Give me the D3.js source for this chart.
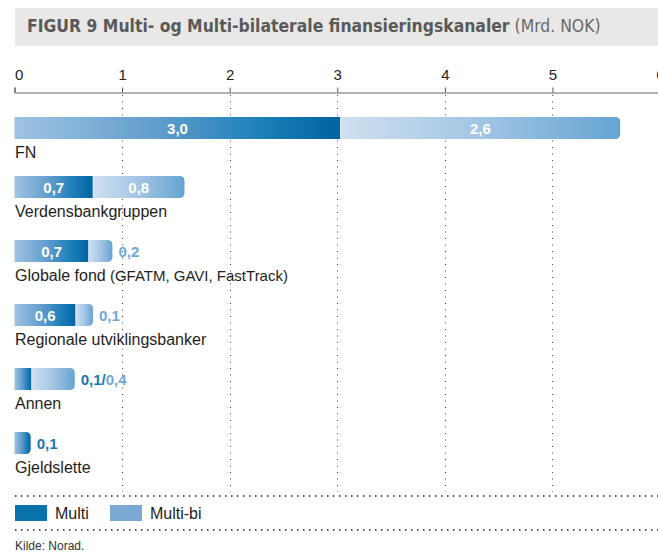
<!DOCTYPE html>
<html><head><meta charset="utf-8">
<script src="https://cdn.jsdelivr.net/npm/d3@7"></script>
<style>body{margin:0;background:#fff}svg{display:block}</style>
</head><body><svg id="c" width="658" height="552"></svg>
<script>
const categories = ["FN","Verdensbankgruppen","Globale fond","Regionale utviklingsbanker","Annen","Gjeldslette"];
const categoryNotes = ["","","(GFATM, GAVI, FastTrack)","","",""];
const multiValues = [3.03, 0.73, 0.69, 0.57, 0.16, 0.15];
const multiBiValues = [2.60, 0.85, 0.22, 0.16, 0.40, 0];
const multiLabels = ["3,0","0,7","0,7","0,6","0,1","0,1"];
const multiBiLabels = ["2,6","0,8","0,2","0,1","0,4",""];
const tickValues = [0,1,2,3,4,5,6];
const seriesNames = ["Multi","Multi-bi"];
const titleBold = "FIGUR 9 Multi- og Multi-bilaterale finansieringskanaler";
const titleRest = " (Mrd. NOK)";
const source = "Kilde: Norad.";

const svg = d3.select("#c");
const font = "'Liberation Sans', Arial, sans-serif";
const W = 658;
const x = d3.scaleLinear().domain([0,6]).range([14.5, 660]);
const y = d3.scaleBand().domain(categories).range([112, 112 + 64*categories.length]).paddingInner(0).paddingOuter(0);
const barH = 22;
const yTop = (c,i) => y(c) + (i===0 ? 5 : 0);

const defs = svg.append("defs");
function grad(id, stops){
  const g = defs.append("linearGradient").attr("id", id).attr("x1","0").attr("x2","1").attr("y1","0").attr("y2","0");
  stops.forEach(s => g.append("stop").attr("offset", s[0]).attr("stop-color", s[1]));
}
grad("gMulti", [[0,"#a0c3e2"],[0.45,"#5f9ccc"],[0.75,"#1e7fba"],[1,"#0063a0"]]);
grad("gBi", [[0,"#d0e0f1"],[0.5,"#a3c5e4"],[1,"#65a4d2"]]);

// title
svg.append("rect").attr("x",15).attr("y",8).attr("width",W-15).attr("height",38).attr("fill","#e8e8e6");
const tt = svg.append("text").attr("x",27).attr("y",32)
  .attr("font-family","'Liberation Sans Narrow','DejaVu Sans Condensed',sans-serif").attr("font-size",17.4).attr("fill","#5a5a5a");
tt.append("tspan").attr("font-weight","bold").text(titleBold);
tt.append("tspan").attr("fill","#6a6a6a").text(titleRest);

// gridlines
svg.append("g").selectAll("line").data(tickValues.filter(v => v>0 && v<6)).join("line")
  .attr("x1", d=>Math.round(x(d))+0.5).attr("x2", d=>Math.round(x(d))+0.5)
  .attr("y1", 95).attr("y2", 492)
  .attr("stroke","#444").attr("stroke-width",1).attr("stroke-dasharray","1,5.5");

// axis
const axis = svg.append("g").attr("transform","translate(0,92.5)")
  .call(d3.axisTop(x).tickValues(tickValues).tickSize(5).tickSizeOuter(5).tickPadding(8).tickFormat(d3.format("d")));
axis.select(".domain").attr("stroke","#666");
axis.selectAll(".tick line").attr("stroke","#555");
axis.selectAll(".tick text").attr("font-family",font).attr("font-size",15).attr("fill","#222")
  .attr("text-anchor", d => d===0 ? "start" : "middle");

function segPath(x0, x1, yy, h, rounded){
  const r = Math.min(5, (x1-x0));
  if(!rounded) return `M${x0},${yy}H${x1}V${yy+h}H${x0}Z`;
  return `M${x0},${yy}H${x1-r}Q${x1},${yy} ${x1},${yy+r}V${yy+h-r}Q${x1},${yy+h} ${x1-r},${yy+h}H${x0}Z`;
}

const rows = svg.append("g").selectAll("g").data(categories).join("g");
rows.each(function(c, i){
  const g = d3.select(this);
  const t = yTop(c,i);
  const m = multiValues[i], b = multiBiValues[i];
  const x0 = x(0), x1 = x(m), x2 = x(m+b);
  g.append("path").attr("d", segPath(x0, x1, t, barH, b===0)).attr("fill","url(#gMulti)");
  if(b>0){
    g.append("path").attr("d", segPath(x1, x2, t, barH, true)).attr("fill","url(#gBi)");
    g.append("line").attr("x1",x1).attr("x2",x1).attr("y1",t).attr("y2",t+barH).attr("stroke","#e8f0f8").attr("stroke-width",0.8);
  }
  const outside = [];
  const lblY = t + barH/2 + 5.5;
  const minW = 50;
  if(x1-x0 > minW){
    g.append("text").attr("x",(x0+x1)/2).attr("y",lblY).attr("text-anchor","middle")
      .attr("font-family",font).attr("font-weight","bold").attr("font-size",15).attr("fill","#fff").text(multiLabels[i]);
  } else outside.push([multiLabels[i], "#1a78b5"]);
  if(b>0){
    if(x2-x1 > minW){
      g.append("text").attr("x",(x1+x2)/2).attr("y",lblY).attr("text-anchor","middle")
        .attr("font-family",font).attr("font-weight","bold").attr("font-size",15).attr("fill","#fff").text(multiBiLabels[i]);
    } else outside.push([multiBiLabels[i], "#6ea8d8"]);
  }
  if(outside.length){
    const ot = g.append("text").attr("x", (b>0?x2:x1)+6).attr("y", lblY)
      .attr("font-family",font).attr("font-weight","bold").attr("font-size",15);
    outside.forEach((o,k) => {
      ot.append("tspan").attr("fill",o[1]).text(o[0] + (k<outside.length-1 ? "/" : ""));
    });
  }
  const lt = g.append("text").attr("x",15).attr("y",t+barH+19)
    .attr("font-family",font).attr("font-size",16).attr("fill","#1e1e1e").text(c);
  if(categoryNotes[i]) lt.append("tspan").attr("font-size",15).text(" " + categoryNotes[i]);
});

// dotted separators
[496, 530].forEach(yy => svg.append("line").attr("x1",15).attr("x2",W).attr("y1",yy).attr("y2",yy)
  .attr("stroke","#555").attr("stroke-width",2).attr("stroke-dasharray","1.5,4.5"));

// legend
const legColors = ["#0a72ab","#7aaad3"];
const leg = svg.append("g").selectAll("g").data(seriesNames).join("g")
  .attr("transform", (d,i) => `translate(${i===0?15:110},505)`);
leg.append("rect").attr("width",32).attr("height",16).attr("fill",(d,i)=>legColors[i]);
leg.append("text").attr("x",40).attr("y",13.5).attr("font-family",font).attr("font-size",16).attr("fill","#1e1e1e").text(d=>d);

svg.append("text").attr("x",15).attr("y",550).attr("font-family",font).attr("font-size",12).attr("fill","#333").text(source);
</script></body></html>
